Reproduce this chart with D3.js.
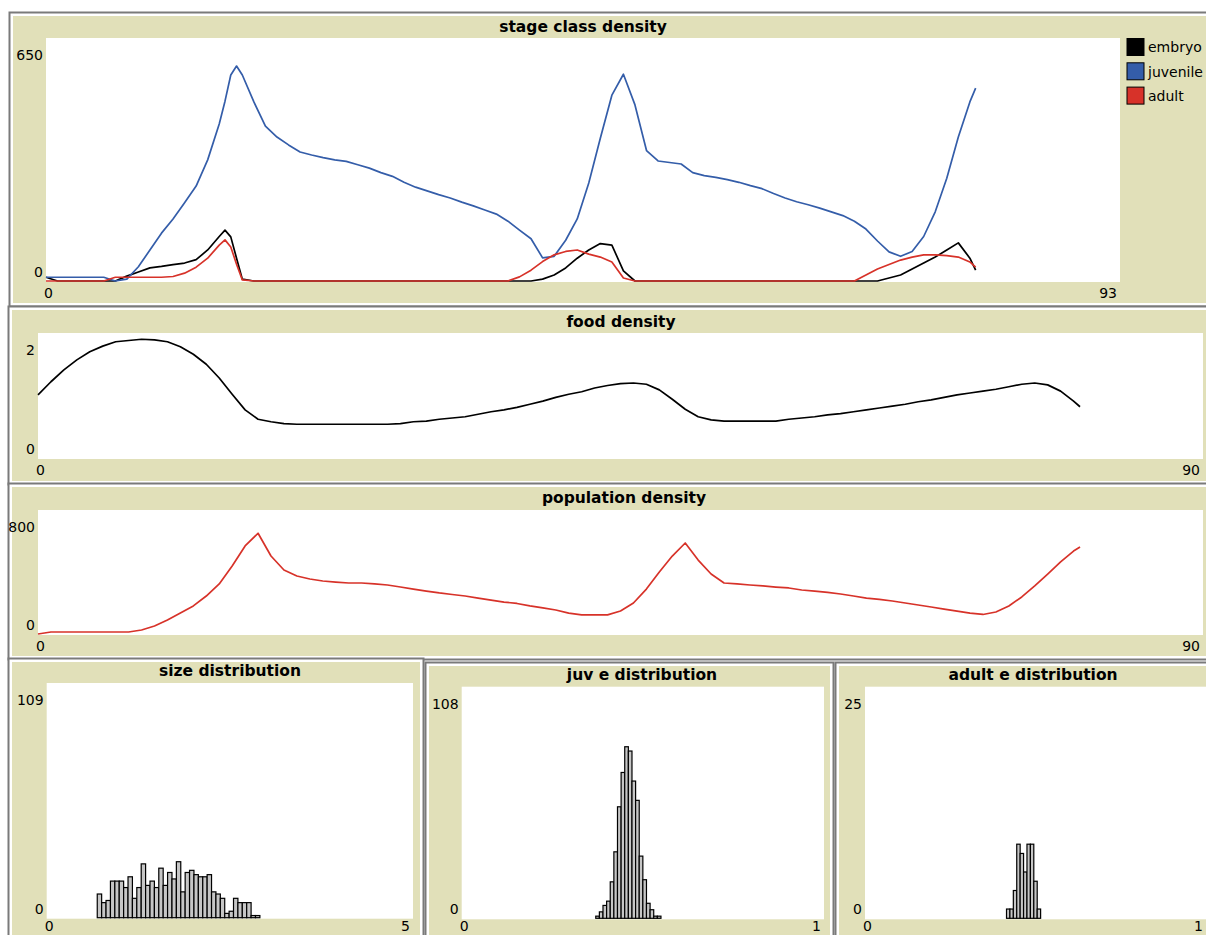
<!DOCTYPE html>
<html><head><meta charset="utf-8">
<script src="https://cdn.jsdelivr.net/npm/d3@7"></script>
<style>
body{margin:0;background:#fff;overflow:hidden;}
svg{display:block;}
text{font-family:"DejaVu Sans",sans-serif;fill:#000;}
</style>
</head><body>
<svg id="c" width="1206" height="935"></svg>
<script>
// ---------- DATA ----------
// stage class density (time axis)
const stageTimes = [0,1,2,3,4,5,6,7,8,9,10,11,12,13,14,15,15.5,16,16.5,
  17,18,19,20,21,22,23,24,25,26,27,28,29,30,31,32,33,34,35,36,37,38,39,40,41,42,43,44,45,46,
  47,48,49,50,51,52,53,54,55,56,57,58,59,60,61,62,63,64,65,66,67,68,69,70,71,72,73,74,75,76,
  77,78,79,80,80.5];
const embryo = [10,0,0,0,0,0,
  0,13,24,35,39,44,48,57,83,119,
  136,118,61,
  5,0,0,0,0,0,0,0,0,0,
  0,0,0,0,0,0,0,0,0,0,
  0,0,0,0,0,0,5,16,35,61,
  83,100,96,27,0,0,0,0,0,0,
  0,0,0,0,0,0,0,0,0,0,
  0,0,0,0,0,0,8,16,32,48,
  64,83,102,61,
  29];
const juvenile = [10,10,10,10,10,10,
  0,5,38,83,128,166,209,254,324,420,
  481,551,575,
  551,479,414,385,364,345,337,330,324,320,
  311,302,290,280,264,251,241,231,222,211,
  201,190,179,160,136,113,62,66,109,166,
  262,382,497,553,471,349,321,317,313,290,
  282,277,271,264,255,247,234,222,212,204,
  195,185,175,160,139,107,78,66,79,119,
  185,275,385,479,
  516];
const adult = [0,0,0,0,0,0,
  10,10,10,10,10,12,21,37,61,96,
  110,91,45,
  3,0,0,0,0,0,0,0,0,0,
  0,0,0,0,0,0,0,0,0,0,
  0,0,0,0,11,29,52,70,79,83,
  72,64,51,8,0,0,0,0,0,0,
  0,0,0,0,0,0,0,0,0,0,
  0,0,0,0,16,32,44,56,64,70,
  70,68,64,51,
  37];
const stageNames = ["embryo","juvenile","adult"];
const stageXDomain = [0, 93];
const stageYDomain = [0, 650];

// food & population density
const timeSteps = [0,1,2,3,4,5,6,7,8,9,10,11,12,13,14,15,16,17,18,19,20,21,22,23,24,25,26,27,28,29,
  30,31,32,33,34,35,36,37,38,39,40,41,42,43,44,45,46,47,48,49,50,51,52,53,54,55,56,57,58,59,
  60,61,62,63,64,65,66,67,68,69,70,71,72,73,74,75,76,77,78,79,80,80.5];
const food = [1.01,1.22,1.41,1.57,1.70,1.79,1.86,1.88,1.90,1.89,
  1.86,1.78,1.66,1.50,1.28,1.02,0.77,0.62,0.58,0.55,
  0.54,0.54,0.54,0.54,0.54,0.54,0.54,0.54,0.55,0.58,
  0.59,0.62,0.64,0.66,0.70,0.74,0.77,0.81,0.86,0.91,
  0.97,1.02,1.06,1.12,1.16,1.19,1.20,1.18,1.09,0.94,
  0.78,0.66,0.61,0.59,0.59,0.59,0.59,0.59,0.62,0.64,
  0.66,0.69,0.71,0.74,0.77,0.80,0.83,0.86,0.90,0.93,
  0.97,1.01,1.04,1.07,1.10,1.14,1.18,1.20,1.17,1.07,
  0.91,0.82];
const population = [0,13,13,13,13,13,13,13,26,52,
  90,135,181,245,323,439,568,650,503,413,
  374,355,342,335,329,329,323,316,303,290,
  277,265,255,245,232,219,206,197,181,168,
  155,135,123,123,123,148,200,290,400,503,
  587,477,387,329,323,316,310,303,297,284,
  277,268,258,245,232,223,213,200,187,174,
  161,148,135,126,142,181,239,310,387,465,
  535,561];
const foodXDomain = [0, 90], foodYDomain = [0, 2];
const popXDomain = [0, 90], popYDomain = [0, 800];

// histograms
const sizeBinStart = 0.69, sizeBinWidth = 0.06;
const sizeCounts = [11,7,8,17,17,17,14,19,9,14,25,15,17,14,23,15,21,18,26,12,
  21,22,20,19,19,20,12,11,9,2,3,9,7,7,7,1,1];
const sizeXDomain = [0, 5], sizeYDomain = [0, 109];

const juvBinStart = 0.37, juvBinWidth = 0.01;
const juvCounts = [1,3,6,8,17,31,52,68,80,78,64,55,29,18,7,4,1,1];
const juvXDomain = [0, 1], juvYDomain = [0, 108];

const adultBinStart = 0.415, adultBinWidth = 0.01;
const adultCounts = [1,1,3,8,7,5,8,8,4,1];
const adultXDomain = [0, 1], adultYDomain = [0, 25];

const titles = ["stage class density","food density","population density",
  "size distribution","juv e distribution","adult e distribution"];

// ---------- DRAWING ----------
const svg = d3.select("#c");
const BEIGE = "#e1e0b9";
const colors = {embryo:"#000000", juvenile:"#345da9", adult:"#d73229"};

function frame(x, y, w, h) {
  svg.append("rect").attr("x", x - 3.5).attr("y", y - 3.5).attr("width", w + 7).attr("height", h + 7)
    .attr("fill", "#fff").attr("stroke", "#7a7a7a").attr("stroke-width", 2);
  svg.append("rect").attr("x", x).attr("y", y).attr("width", w).attr("height", h).attr("fill", BEIGE);
}

function plotArea(p, xDom, yDom, title, titleX, titleY, xLabOffset) {
  const xs = d3.scaleLinear().domain(xDom).range([p.x0, p.x1]);
  const ys = d3.scaleLinear().domain(yDom).range([p.y1, p.y0]);
  svg.append("rect").attr("x", p.x0).attr("y", p.y0).attr("width", p.x1 - p.x0).attr("height", p.y1 - p.y0 + 1)
    .attr("fill", "#fff");
  svg.append("text").attr("x", titleX).attr("y", titleY).attr("dy", "0.35em")
    .attr("text-anchor", "middle").attr("font-weight", "bold").attr("font-size", 15.5).text(title);
  const fmt = d3.format("~g");
  svg.append("text").attr("x", p.x0 - 3).attr("y", p.y0 + 17).attr("dy", "0.35em")
    .attr("text-anchor", "end").attr("font-size", 14).text(fmt(yDom[1]));
  svg.append("text").attr("x", p.x0 - 3).attr("y", p.y1 - 9).attr("dy", "0.35em")
    .attr("text-anchor", "end").attr("font-size", 14).text(fmt(yDom[0]));
  svg.append("text").attr("x", p.x0 - 2).attr("y", p.y1 + xLabOffset).attr("dy", "0.35em")
    .attr("text-anchor", "start").attr("font-size", 14).text(fmt(xDom[0]));
  svg.append("text").attr("x", p.x1 - 3).attr("y", p.y1 + xLabOffset).attr("dy", "0.35em")
    .attr("text-anchor", "end").attr("font-size", 14).text(fmt(xDom[1]));
  return {xs, ys};
}

function drawLine(sc, times, vals, color) {
  const line = d3.line().x((d, i) => sc.xs(times[i])).y(d => sc.ys(d));
  svg.append("path").datum(vals).attr("d", line).attr("fill", "none")
    .attr("stroke", color).attr("stroke-width", 1.7).attr("stroke-linejoin", "round");
}

function drawHist(sc, start, width, counts) {
  svg.append("g").selectAll("rect").data(counts).join("rect")
    .filter(d => d > 0)
    .attr("x", (d, i) => sc.xs(start + i * width))
    .attr("width", sc.xs(width) - sc.xs(0))
    .attr("y", d => sc.ys(d))
    .attr("height", d => sc.ys(0) - sc.ys(d))
    .attr("fill", "#c6c6c6").attr("stroke", "#000").attr("stroke-width", 1.2);
}

// panels
frame(13, 16, 1200, 287);
frame(12, 310, 1200, 171);
frame(12, 487, 1200, 169);
frame(12, 662, 408, 280);
frame(429, 666, 401, 280);
frame(839, 666, 380, 280);

// 1. stage class density
const p1 = {x0:46, x1:1120, y0:38, y1:281};
const s1 = plotArea(p1, stageXDomain, stageYDomain, titles[0], 583, 27, 12);
drawLine(s1, stageTimes, embryo, colors.embryo);
drawLine(s1, stageTimes, juvenile, colors.juvenile);
drawLine(s1, stageTimes, adult, colors.adult);
const leg = svg.append("g").selectAll("g").data(stageNames).join("g")
  .attr("transform", (d, i) => `translate(1127,${38.5 + i * 24.3})`);
leg.append("rect").attr("width", 17).attr("height", 17)
  .attr("fill", d => colors[d]).attr("stroke", "#000").attr("stroke-width", 1);
leg.append("text").attr("x", 21).attr("y", 9).attr("dy", "0.35em").attr("font-size", 14).text(d => d);

// 2. food density
const p2 = {x0:38, x1:1203, y0:333, y1:458};
const s2 = plotArea(p2, foodXDomain, foodYDomain, titles[1], 621, 322, 12);
drawLine(s2, timeSteps, food, "#000");

// 3. population density
const p3 = {x0:38, x1:1203, y0:510, y1:634};
const s3 = plotArea(p3, popXDomain, popYDomain, titles[2], 624, 498, 12);
drawLine(s3, timeSteps, population, colors.adult);

// 4-6 histograms
const p4 = {x0:46.7, x1:413, y0:683, y1:917.7};
const s4 = plotArea(p4, sizeXDomain, sizeYDomain, titles[3], 230, 671, 8);
drawHist(s4, sizeBinStart, sizeBinWidth, sizeCounts);

const p5 = {x0:461.7, x1:824, y0:686.7, y1:918.3};
const s5 = plotArea(p5, juvXDomain, juvYDomain, titles[4], 642, 675, 7.5);
drawHist(s5, juvBinStart, juvBinWidth, juvCounts);

const p6 = {x0:865, x1:1206, y0:686.7, y1:918.3};
const s6 = plotArea(p6, adultXDomain, adultYDomain, titles[5], 1033, 675, 7.5);
drawHist(s6, adultBinStart, adultBinWidth, adultCounts);
</script>
</body></html>
